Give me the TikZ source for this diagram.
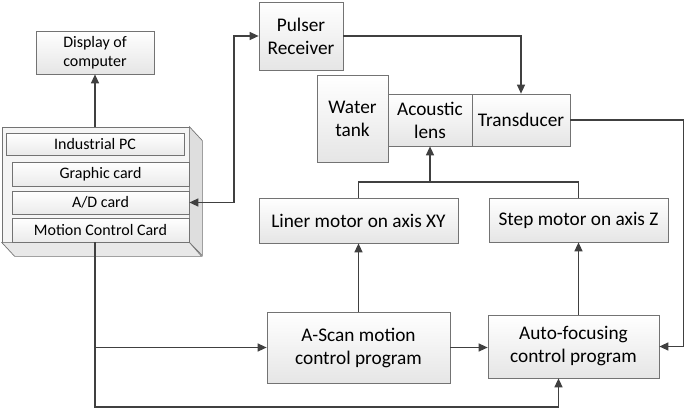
\documentclass[tikz,border=0pt]{standalone}
\usepackage{fontspec}
\setmainfont{Carlito}
\usetikzlibrary{arrows.meta}
\usetikzlibrary{positioning, shadows, calc}
\tikzset{
block/.style = { rectangle, draw = black!55, line width = 0.7pt, top color = white, bottom color = black!10, drop shadow = {shadow xshift = 1pt, shadow yshift = -1pt, fill = black!40, opacity = 0.5}, align = center, inner sep = 0pt, font = \fontsize{19.3}{23}\selectfont },
card/.style = { rectangle, draw = black!55, line width = 0.7pt, top color = white, bottom color = black!8, align = center, inner sep = 0pt, font = \fontsize{16}{19}\selectfont },
face/.style = { draw = black!55, line width = 0.7pt },
link/.style = { draw = black!75, line width = 1.3pt },
arr/.style = { link, -{Triangle[length = 9pt, width = 8pt]} },
}

\begin{document}
\begin{tikzpicture}[x = 1pt, y = -1pt]
      \useasboundingbox (0, 0) rectangle (685, 410);
      % computer
      \node[block, font = \fontsize{16}{19}\selectfont, minimum width = 118pt, minimum height = 43pt] (disp) at (95, 52.5) {Display of\\computer};
      \node[face, fill = black!4, minimum width = 187pt, minimum height = 115pt, inner sep = 0pt] (pc) at (95.5, 184.5) {};
      \path[face, fill = black!13] (pc.north east) -- ++(13, 14) -- ++(0, 115) -- (pc.south east) -- cycle;
      \path[face, fill = black!9] (pc.south west) -- ++(13, 14) -- ++(187, 0) -- (pc.south east) -- cycle;
      \node[card, minimum width = 178pt, minimum height = 22pt] (ipc) at (95, 144) {Industrial PC};
      \node[card, minimum width = 177pt, minimum height = 24pt] (gcard) at (100.5, 174) {Graphic card};
      \node[card, minimum width = 177pt, minimum height = 23pt] (adcard) at (100.5, 202.5) {A/D card};
      \node[card, minimum width = 177pt, minimum height = 24pt] (mcard) at (100.5, 230) {Motion Control Card};
      % ultrasound side
      \node[block, minimum width = 84pt, minimum height = 68pt] (pulser) at (301, 36) {Pulser\\Receiver};
      \node[block, minimum width = 71pt, minimum height = 87pt] (water) at (352.5, 118.5) {Water\\tank};
      \node[block, minimum width = 84pt, minimum height = 52pt] (lens) at (430, 120) {Acoustic\\lens};
      \node[block, minimum width = 98pt, minimum height = 52pt] (trans) at (521, 120) {Transducer};
      % motors and programs
      \node[block, minimum width = 199pt, minimum height = 45pt] (liner) at (358.5, 220.5) {Liner motor on axis XY};
      \node[block, minimum width = 179pt, minimum height = 44pt] (step) at (578.5, 220) {Step motor on axis Z};
      \node[block, minimum width = 183pt, minimum height = 71pt] (ascan) at (358.5, 347.5) {A-Scan motion\\control program};
      \node[block, minimum width = 171pt, minimum height = 63pt] (auto) at (573.5, 346.5) {Auto-focusing\\control program};
      \coordinate (bus) at (234, 36);
      \coordinate (jn) at (430, 182);
      \coordinate (mc) at (mcard.south -| disp.south);
      \coordinate (low) at (95, 407);
      \draw[arr] (pc.north -| disp.south) -- (disp.south);
      \draw[arr, {Triangle[length = 9pt, width = 8pt]}-{Triangle[length = 9pt, width = 8pt]}] (adcard.east) -| (bus) -- (pulser.west);
      \draw[arr] (pulser.east) -| (trans.north);
      \draw[link] (liner.north) |- (jn) -| (step.north);
      \draw[arr] (jn) -- (lens.south);
      \draw[arr] (ascan.north) -- (liner.south);
      \draw[arr] (step.south |- auto.north) -- (step.south);
      \draw[arr] (ascan.east) -- (ascan.east -| auto.west);
      \draw[arr] (trans.east) -- ++(113, 0) |- (auto.east);
      \draw[arr] (mc) |- (ascan.west);
      \draw[arr] (mc) |- (low) -| ($(auto.south) + (-15, 0)$);
    \end{tikzpicture}
\end{document}
